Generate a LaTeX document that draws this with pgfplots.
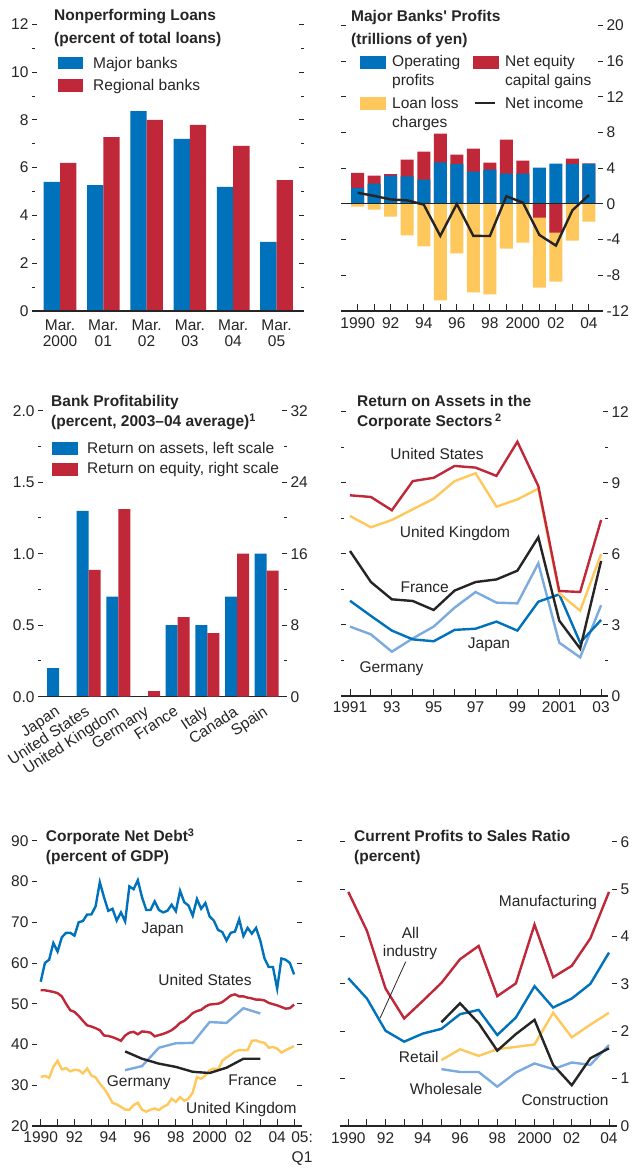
\documentclass[border=0pt]{standalone}
\usepackage{fontspec}
\setmainfont{Liberation Sans}
\usepackage{pgfplots}
\pgfplotsset{compat=1.18}
\definecolor{imfblue}{RGB}{0,114,188}
\definecolor{imfred}{RGB}{192,39,56}
\definecolor{imfyellow}{RGB}{255,200,92}
\definecolor{imflight}{RGB}{122,170,222}
\definecolor{ink}{RGB}{38,36,36}
\newcommand{\fs}{\fontsize{15.5}{18}\selectfont}
\pgfplotsset{
  imf/.style={
    scale only axis, anchor=south west, clip=false,
    axis line style={draw=none},
    /pgf/number format/assume math mode=true,
    tick align=inside,
    xtick pos=left, ytick pos=both,
    every tick/.style={ink, line width=0.9pt},
    major tick length=5pt, minor tick length=3pt,
    xtick style={/pgfplots/major tick length=7pt},
    tick label style={font=\fs, text=ink},
    xticklabel style={yshift=-2pt},
  },
}
\begin{document}
\begin{tikzpicture}[x=1pt,y=1pt]
\useasboundingbox (0,0) rectangle (635,1169);

% ---------- Panel 1: Nonperforming loans
\begin{axis}[imf, at={(32pt,858pt)}, width=272pt, height=286.7pt,
  xmin=-0.647, xmax=5.635, ymin=0, ymax=12,
  ytick={0,2,...,12}, minor y tick num=1,
  xtick={0,...,5},
  xticklabels={{Mar.\\2000},{Mar.\\01},{Mar.\\02},{Mar.\\03},{Mar.\\04},{Mar.\\05}},
  xticklabel style={align=center, font=\fontsize{15.5}{16.6}\selectfont, yshift=-3pt},
  xtick style={draw=none}]
\addplot[ybar, bar width=16.3pt, bar shift=-8.15pt, fill=imfblue, draw=none]
  coordinates {(0,5.40) (1,5.27) (2,8.37) (3,7.20) (4,5.19) (5,2.89)};
\addplot[ybar, bar width=16.3pt, bar shift=8.15pt, fill=imfred, draw=none]
  coordinates {(0,6.20) (1,7.28) (2,8.00) (3,7.79) (4,6.91) (5,5.48)};
\draw[ink, line width=1.2pt] (rel axis cs:0,0) -- (rel axis cs:1,0);
\end{axis}

% ---------- Panel 2: Major banks' profits
\begin{axis}[imf, at={(341pt,858pt)}, width=262pt, height=285.5pt,
  xmin=1988.99, xmax=2004.85, ymin=-12, ymax=20,
  ytick={-12,-8,-4,0,4,8,12,16,20}, yticklabels={-12,-8,-4,0,4,8,12,16,20},
  yticklabel pos=right,
  xtick={1990,...,2004},
  xticklabels={1990,,92,,94,,96,,98,,2000,,02,,04},
  xticklabel style={yshift=-1.5pt}]
\addplot[ybar, bar width=13pt, bar shift=0pt, fill=imfred, draw=none] coordinates {
 (1990,3.48) (1991,3.18) (1992,3.33) (1993,4.97) (1994,5.87) (1995,7.89) (1996,5.53)
 (1997,6.21) (1998,4.64) (1999,7.21) (2000,4.86) (2003,5.08) (2004,4.55)};
\addplot[ybar, bar width=13pt, bar shift=0pt, fill=imfblue, draw=none] coordinates {
 (1990,1.79) (1991,2.28) (1992,3.18) (1993,3.10) (1994,2.73) (1995,4.67) (1996,4.45)
 (1997,3.63) (1998,3.85) (1999,3.40) (2000,3.40) (2001,4.07) (2002,4.52) (2003,4.45) (2004,4.49)};
\addplot[ybar, bar width=13pt, bar shift=0pt, fill=imfyellow, draw=none] coordinates {
 (1990,-0.30) (1991,-0.64) (1992,-1.42) (1993,-3.53) (1994,-4.77) (1995,-10.80) (1996,-5.54)
 (1997,-9.92) (1998,-10.15) (1999,-5.01) (2000,-4.34) (2001,-9.38) (2002,-8.71) (2003,-4.11) (2004,-1.98)};
\addplot[ybar, bar width=13pt, bar shift=0pt, fill=imfred, draw=none] coordinates {
 (2001,-1.53) (2002,-3.21)};
\draw[ink, line width=1pt] (axis cs:1988.99,0) -- (axis cs:2004.85,0);
\addplot[ink, line width=2.4pt, mark=none] coordinates {
 (1990,1.25) (1991,0.90) (1992,0.50) (1993,0.40) (1994,-0.08) (1995,-3.58) (1996,0.0)
 (1997,-3.58) (1998,-3.60) (1999,0.86) (2000,0.15) (2001,-3.48) (2002,-4.67) (2003,-0.71) (2004,1.0)};
\draw[ink, line width=1.2pt] (rel axis cs:0,0) -- (rel axis cs:1,0);
\end{axis}

% ---------- Panel 3: Bank profitability (two scales)
\begin{axis}[imf, at={(38pt,472.3pt)}, width=249pt, height=286pt,
  xmin=-0.708, xmax=7.685, ymin=0, ymax=2,
  ytick={0,0.5,1,1.5,2}, yticklabels={0.0,0.5,1.0,1.5,2.0}, minor y tick num=1,
  ytick pos=left,
  xtick={0,...,7},
  xticklabels={Japan,United States,United Kingdom,Germany,France,Italy,Canada,Spain},
  xticklabel style={rotate=33, anchor=north east, inner sep=1pt, xshift=-6pt, yshift=-2pt},
  xtick style={draw=none}]
\addplot[ybar, bar width=12pt, bar shift=-6pt, fill=imfblue, draw=none] coordinates {
 (0,0.20) (1,1.30) (2,0.70) (4,0.50) (5,0.50) (6,0.70) (7,1.00)};
\draw[ink, line width=1.2pt] (rel axis cs:0,0) -- (rel axis cs:1,0);
\end{axis}
\begin{axis}[imf, at={(38pt,472.3pt)}, width=249pt, height=286pt,
  xmin=-0.708, xmax=7.685, ymin=0, ymax=32,
  ytick={0,8,...,32}, minor y tick num=1,
  ytick pos=right, yticklabel pos=right,
  xtick=\empty]
\addplot[ybar, bar width=12pt, bar shift=6pt, fill=imfred, draw=none] coordinates {
 (1,14.2) (2,21.0) (3,0.63) (4,8.9) (5,7.1) (6,16.0) (7,14.1)};
\end{axis}

% ---------- Panel 4: Return on assets in corporate sectors
\begin{axis}[imf, at={(341pt,473pt)}, width=267pt, height=284.3pt,
  xmin=1990.57, xmax=2003.33, ymin=0, ymax=12,
  ytick={0,3,...,12}, minor y tick num=1, yticklabel pos=right,
  xtick={1991,...,2003},
  xticklabels={1991,,93,,95,,97,,99,,2001,,03}]
\addplot[imflight, line width=2.4pt, mark=none] coordinates {
 (1991,2.93) (1992,2.60) (1993,1.87) (1994,2.43) (1995,2.93) (1996,3.73) (1997,4.39)
 (1998,3.94) (1999,3.91) (2000,5.60) (2001,2.25) (2002,1.63) (2003,3.83)};
\addplot[imfblue, line width=2.4pt, mark=none] coordinates {
 (1991,4.02) (1992,3.38) (1993,2.76) (1994,2.39) (1995,2.31) (1996,2.79) (1997,2.84)
 (1998,3.14) (1999,2.76) (2000,3.98) (2001,4.29) (2002,2.25) (2003,3.21)};
\addplot[ink, line width=2.4pt, mark=none] coordinates {
 (1991,6.12) (1992,4.81) (1993,4.08) (1994,4.01) (1995,3.63) (1996,4.45) (1997,4.81)
 (1998,4.92) (1999,5.29) (2000,6.70) (2001,3.18) (2002,2.00) (2003,5.70)};
\addplot[imfyellow, line width=2.4pt, mark=none] coordinates {
 (1991,7.60) (1992,7.12) (1993,7.43) (1994,7.88) (1995,8.33) (1996,9.07) (1997,9.40)
 (1998,7.99) (1999,8.30) (2000,8.75) (2001,4.33) (2002,3.60) (2003,5.99)};
\addplot[imfred, line width=2.4pt, mark=none] coordinates {
 (1991,8.47) (1992,8.40) (1993,7.84) (1994,9.07) (1995,9.21) (1996,9.71) (1997,9.64)
 (1998,9.29) (1999,10.73) (2000,8.86) (2001,4.43) (2002,4.39) (2003,7.43)};
\draw[ink, line width=1.2pt] (rel axis cs:0,0) -- (rel axis cs:1,0);
\end{axis}

% ---------- Panel 5: Corporate net debt
\begin{axis}[imf, at={(32pt,43pt)}, width=270pt, height=285.3pt,
  xmin=1989.485, xmax=2005.47, ymin=20, ymax=90,
  ytick={20,30,...,90},
  xtick={1990,...,2004},
  xticklabels={1990,,92,,94,,96,,98,,2000,,02,,04},
  extra x ticks={2005}, extra x tick labels={{05:\\[2pt]Q1}},
  extra x tick style={tick label style={align=center, xshift=8pt}}]
\addplot[imfblue, line width=2.4pt, mark=none] coordinates {
 (1990.00,55.4) (1990.25,60.0) (1990.50,60.8) (1990.75,64.9) (1991.00,62.8) (1991.25,66.3)
 (1991.50,67.4) (1991.75,67.4) (1992.00,66.7) (1992.25,70.0) (1992.50,70.3) (1992.75,71.9)
 (1993.00,71.9) (1993.25,73.9) (1993.50,79.8) (1993.75,76.1) (1994.00,72.8) (1994.25,73.3)
 (1994.50,70.4) (1994.75,72.4) (1995.00,70.2) (1995.25,78.8) (1995.50,78.1) (1995.75,80.3)
 (1996.00,76.1) (1996.25,73.0) (1996.50,73.0) (1996.75,75.1) (1997.00,73.0) (1997.25,72.4)
 (1997.50,72.8) (1997.75,74.3) (1998.00,72.7) (1998.25,77.7) (1998.50,74.9) (1998.75,74.1)
 (1999.00,71.6) (1999.25,75.7) (1999.50,73.3) (1999.75,74.7) (2000.00,71.4) (2000.25,70.4)
 (2000.50,68.1) (2000.75,67.6) (2001.00,65.5) (2001.25,67.4) (2001.50,67.7) (2001.75,70.7)
 (2002.00,66.6) (2002.25,68.6) (2002.50,67.2) (2002.75,68.6) (2003.00,65.5) (2003.25,61.1)
 (2003.50,59.0) (2003.75,59.0) (2004.00,53.7) (2004.25,61.1) (2004.50,60.8) (2004.75,60.0)
 (2005.00,57.2)};
\addplot[imfred, line width=2.4pt, mark=none] coordinates {
 (1990.00,53.3) (1990.25,53.3) (1990.50,53.1) (1990.75,52.9) (1991.00,52.6) (1991.25,51.8)
 (1991.50,50.0) (1991.75,48.4) (1992.00,48.0) (1992.25,47.0) (1992.50,45.8) (1992.75,44.7)
 (1993.00,44.4) (1993.25,44.0) (1993.50,43.5) (1993.75,42.2) (1994.00,42.1) (1994.25,41.8)
 (1994.50,41.4) (1994.75,40.9) (1995.00,42.2) (1995.25,42.9) (1995.50,43.1) (1995.75,42.5)
 (1996.00,43.2) (1996.25,43.1) (1996.50,42.9) (1996.75,42.0) (1997.00,42.3) (1997.25,42.6)
 (1997.50,43.0) (1997.75,43.5) (1998.00,44.3) (1998.25,45.3) (1998.50,45.8) (1998.75,46.7)
 (1999.00,47.7) (1999.25,48.2) (1999.50,48.5) (1999.75,49.3) (2000.00,49.8) (2000.25,49.9)
 (2000.50,50.0) (2000.75,50.4) (2001.00,51.2) (2001.25,52.0) (2001.50,52.3) (2001.75,51.8)
 (2002.00,51.8) (2002.25,51.5) (2002.50,51.3) (2002.75,51.0) (2003.00,51.0) (2003.25,50.8)
 (2003.50,50.2) (2003.75,49.9) (2004.00,49.6) (2004.25,49.2) (2004.50,48.8) (2004.75,48.9)
 (2005.00,49.8)};
\addplot[imfyellow, line width=2.4pt, mark=none] coordinates {
 (1990.00,32.0) (1990.25,32.3) (1990.50,31.8) (1990.75,34.5) (1991.00,36.0) (1991.25,33.9)
 (1991.50,34.2) (1991.75,33.4) (1992.00,33.8) (1992.25,33.7) (1992.50,32.9) (1992.75,34.1)
 (1993.00,32.4) (1993.25,31.9) (1993.50,30.4) (1993.75,29.2) (1994.00,27.6) (1994.25,25.7)
 (1994.50,25.3) (1994.75,24.7) (1995.00,24.0) (1995.25,24.0) (1995.50,25.1) (1995.75,25.7)
 (1996.00,24.0) (1996.25,23.5) (1996.50,24.0) (1996.75,24.3) (1997.00,23.9) (1997.25,24.7)
 (1997.50,25.2) (1997.75,26.7) (1998.00,25.9) (1998.25,27.1) (1998.50,26.2) (1998.75,26.7)
 (1999.00,28.2) (1999.25,32.0) (1999.50,31.6) (1999.75,32.4) (2000.00,33.7) (2000.25,34.1)
 (2000.50,33.8) (2000.75,36.0) (2001.00,36.8) (2001.25,37.5) (2001.50,38.3) (2001.75,38.6)
 (2002.00,38.6) (2002.25,38.6) (2002.50,40.9) (2002.75,41.0) (2003.00,40.6) (2003.25,40.4)
 (2003.50,39.2) (2003.75,39.4) (2004.00,39.0) (2004.25,38.0) (2004.50,38.6) (2004.75,39.1)
 (2005.00,39.6)};
\addplot[imflight, line width=2.4pt, mark=none] coordinates {
 (1995,33.7) (1996,34.7) (1997,39.2) (1998,40.3) (1999,40.4) (2000,45.5) (2001,45.3)
 (2002,48.9) (2003,47.6)};
\addplot[ink, line width=2.4pt, mark=none] coordinates {
 (1995,38.3) (1996,36.5) (1997,35.3) (1998,34.5) (1999,33.3) (2000,33.0) (2001,34.3)
 (2002,36.5) (2003,36.5)};
\draw[ink, line width=1.2pt] (rel axis cs:0,0) -- (rel axis cs:1,0);
\end{axis}

% ---------- Panel 6: Current profits to sales ratio
\begin{axis}[imf, at={(340pt,43pt)}, width=277pt, height=284.3pt,
  xmin=1989.554, xmax=2004.43, ymin=0, ymax=6,
  ytick={0,...,6}, yticklabel pos=right,
  xtick={1990,...,2004},
  xticklabels={1990,,92,,94,,96,,98,,2000,,02,,04},
  xticklabel style={yshift=-1pt}]
\addplot[imflight, line width=2.4pt, mark=none] coordinates {
 (1995,1.20) (1996,1.14) (1997,1.14) (1998,0.83) (1999,1.13) (2000,1.32) (2001,1.20)
 (2002,1.34) (2003,1.29) (2004,1.71)};
\addplot[imfyellow, line width=2.4pt, mark=none] coordinates {
 (1995,1.39) (1996,1.62) (1997,1.48) (1998,1.62) (1999,1.67) (2000,1.72) (2001,2.39)
 (2002,1.87) (2003,2.14) (2004,2.39)};
\addplot[imfblue, line width=2.4pt, mark=none] coordinates {
 (1990,3.12) (1991,2.69) (1992,2.01) (1993,1.78) (1994,1.95) (1995,2.05) (1996,2.36)
 (1997,2.45) (1998,1.92) (1999,2.29) (2000,2.95) (2001,2.50) (2002,2.69) (2003,3.00) (2004,3.66)};
\addplot[ink, line width=2.4pt, mark=none] coordinates {
 (1995,2.19) (1996,2.59) (1997,2.17) (1998,1.59) (1999,1.94) (2000,2.24) (2001,1.29)
 (2002,0.86) (2003,1.43) (2004,1.64)};
\addplot[imfred, line width=2.4pt, mark=none] coordinates {
 (1990,4.94) (1991,4.12) (1992,2.90) (1993,2.27) (1994,2.64) (1995,3.02) (1996,3.52)
 (1997,3.80) (1998,2.74) (1999,3.01) (2000,4.25) (2001,3.14) (2002,3.38) (2003,3.96) (2004,4.94)};
\draw[ink, line width=1.2pt] (rel axis cs:0,0) -- (rel axis cs:1,0);
\end{axis}

% ---------- Titles, legends, labels (image coordinates, y downward)
\begin{scope}[shift={(0,1169)}, yscale=-1,
  every node/.style={font=\fs, text=ink, inner sep=0pt}]
% panel 1
\node[anchor=base west] at (54,20.6) {\bfseries Nonperforming Loans};
\node[anchor=base west] at (54,43.6) {\bfseries (percent of total loans)};
\fill[imfblue] (58,57) rectangle (83,69);
\fill[imfred] (58,79) rectangle (83,92);
\node[anchor=base west] at (93,68.5) {Major banks};
\node[anchor=base west] at (93,91) {Regional banks};
% panel 2
\node[anchor=base west] at (351,21.5) {\bfseries Major Banks\textquotesingle\ Profits};
\node[anchor=base west] at (351,44.3) {\bfseries (trillions of yen)};
\fill[imfblue] (360,56) rectangle (386,69);
\node[anchor=base west] at (392,67) {Operating};
\node[anchor=base west] at (392,86) {profits};
\fill[imfred] (473,56) rectangle (499,69);
\node[anchor=base west] at (505,67) {Net equity};
\node[anchor=base west] at (505,86) {capital gains};
\fill[imfyellow] (360,97) rectangle (386,110);
\node[anchor=base west] at (392,108.5) {Loan loss};
\node[anchor=base west] at (392,128) {charges};
\draw[ink, line width=2.4pt] (475,103) -- (495,103);
\node[anchor=base west] at (505,108.5) {Net income};
% panel 3
\node[anchor=base west] at (51,406.3) {\bfseries Bank Profitability};
\node[anchor=base west] at (51,426.5) {\bfseries (percent, 2003--04 average)\textsuperscript{1}};
\fill[imfblue] (52,442) rectangle (78,455);
\fill[imfred] (52,463) rectangle (78,476);
\node[anchor=base west] at (87,453.5) {Return on assets, left scale};
\node[anchor=base west] at (87,474) {Return on equity, right scale};
% panel 4
\node[anchor=base west] at (357,406.3) {\bfseries Return on Assets in the};
\node[anchor=base west] at (357,426.5) {\bfseries Corporate Sectors\,\textsuperscript{2}};
\node[anchor=base] at (437,460) {United States};
\node[anchor=base] at (455,537.3) {United Kingdom};
\node[anchor=base] at (424.7,592.7) {France};
\node[anchor=base] at (489,648.3) {Japan};
\node[anchor=base] at (391.5,672.7) {Germany};
% panel 5
\node[anchor=base west] at (45.7,842) {\bfseries Corporate Net Debt\textsuperscript{3}};
\node[anchor=base west] at (45.7,862) {\bfseries (percent of GDP)};
\node[anchor=base] at (162.7,933.3) {Japan};
\node[anchor=base] at (205,986) {United States};
\node[anchor=base] at (138.8,1086.7) {Germany};
\node[anchor=base] at (252.5,1085.3) {France};
\node[anchor=base] at (241.3,1113.3) {United Kingdom};
% panel 6
\node[anchor=base west] at (354,842) {\bfseries Current Profits to Sales Ratio};
\node[anchor=base west] at (354,862) {\bfseries (percent)};
\node[anchor=base] at (548,906.7) {Manufacturing};
\node[anchor=base] at (410.5,938.3) {All};
\node[anchor=base] at (410,956.7) {industry};
\draw[ink, line width=0.8pt] (405.7,961.7) -- (380,1018.3);
\node[anchor=base] at (418.8,1062.7) {Retail};
\node[anchor=base] at (446,1095) {Wholesale};
\node[anchor=base] at (565,1106) {Construction};
\end{scope}
\end{tikzpicture}
\end{document}
